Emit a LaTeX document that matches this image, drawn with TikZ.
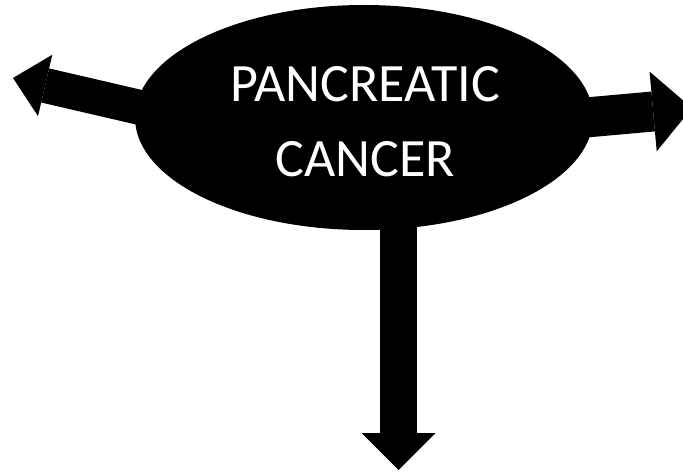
\documentclass[tikz,border=0pt]{standalone}
\usepackage{fontspec}
\newfontfamily\calibri{Carlito}
\usetikzlibrary{arrows.meta,shapes.geometric,backgrounds}

\begin{document}
\begin{tikzpicture}[x=1pt, y=-1pt,
  blob/.style={ellipse, fill=black, minimum width=458pt, minimum height=225pt, inner sep=0pt},
  lbl/.style={text=white, align=center, inner sep=0pt, font=\calibri\fontsize{54}{75}\selectfont},
  arr/.style={draw=black, line width=#1}
]
\useasboundingbox (0,0) rectangle (683,473);
\node[blob] (cancer) at (364,117.5) {};
\node[lbl] (name) at (365,122.1) {PANCREATIC\\CANCER};
\begin{scope}[on background layer]
\coordinate (lfoot) at (250,133);
\coordinate (ltip) at (13,78);
\coordinate (rfoot) at (480,127);
\coordinate (rtip) at (692,108);
\coordinate (dfoot) at (398.5,150);
\coordinate (dtip) at (398.5,470);
\draw[arr=35pt, -{Triangle[length=33pt, width=63pt, line width=0pt]}] (lfoot) -- (ltip);
\draw[arr=40pt, -{Triangle[length=39pt, width=80pt, line width=0pt]}] (rfoot) -- (rtip);
\draw[arr=37pt, -{Triangle[length=37pt, width=74pt, line width=0pt]}] (dfoot) -- (dtip);
\end{scope}
\end{tikzpicture}
\end{document}
